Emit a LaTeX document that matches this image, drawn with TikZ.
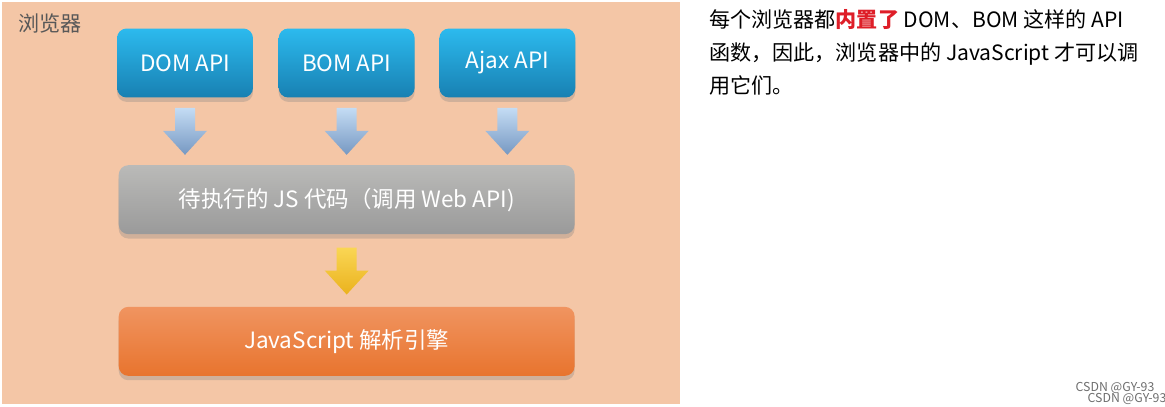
\documentclass[tikz,border=0pt]{standalone}
\usepackage{fontspec}
\setmainfont{Noto Sans CJK SC}
\usetikzlibrary{calc,positioning,shadows}
\definecolor{peach}{RGB}{244,198,166}
\definecolor{apitop}{RGB}{44,186,238}
\definecolor{apibot}{RGB}{24,128,178}
\definecolor{codetop}{RGB}{186,186,184}
\definecolor{codebot}{RGB}{154,154,154}
\definecolor{engtop}{RGB}{240,148,96}
\definecolor{engbot}{RGB}{232,116,46}
\definecolor{pfeiltop}{RGB}{196,220,244}
\definecolor{pfeilbot}{RGB}{118,152,194}
\definecolor{gelbtop}{RGB}{250,214,84}
\definecolor{gelbbot}{RGB}{234,178,30}
\definecolor{lblgray}{RGB}{88,88,88}
\definecolor{hl}{RGB}{222,30,40}
\definecolor{wm}{RGB}{110,110,110}
% Blockpfeil von #1 (oben) bis Spitze #2, Stil #3
\newcommand{\blockpfeil}[3]{%
  \path[#3] ($(#1)+(-10,0)$) -- ($(#1)+(10,0)$) -- ($(#2)+(10,-24)$) -- ($(#2)+(22,-24)$)
    -- (#2) -- ($(#2)+(-22,-24)$) -- ($(#2)+(-10,-24)$) -- cycle;}
\tikzset{
  every picture/.style={x=0.02cm, y=-0.02cm},
  every node/.style={font=\fontsize{12}{14}\selectfont, inner sep=0pt},
  % Kästen
  box/.style={rounded corners=5.5pt, minimum height=1.38cm, text=white,
    font=\fontsize{12.8}{15}\selectfont,
    drop shadow={opacity=0.3, shadow xshift=0pt, shadow yshift=-2.5pt}},
  apibox/.style={box, minimum width=2.72cm, top color=apitop, bottom color=apibot},
  codebox/.style={box, minimum width=9.12cm, top color=codetop, bottom color=codebot},
  enginebox/.style={box, minimum width=9.12cm, top color=engtop, bottom color=engbot},
  % Pfeile
  bluearrow/.style={top color=pfeiltop, bottom color=pfeilbot},
  yellowarrow/.style={top color=gelbtop, bottom color=gelbbot},
  note/.style={anchor=base west, text=black},
  wmark/.style={text=wm, font=\fontsize{7}{8}\selectfont},
}

\begin{document}
\begin{tikzpicture}
  \useasboundingbox (0,0) rectangle (1165,406);
  \fill[white] (0,0) rectangle (1165,406);
  % Browser-Fläche
  \fill[peach] (2,2) rectangle (680,404);
  \node[anchor=base west, text=lblgray] (browser) at (18,31) {浏览器};
  % Web-APIs
  \node[apibox] (dom) at (185,63) {DOM API};
  \node[apibox, right=0.5cm of dom] (bom) {BOM API};
  \node[apibox, right=0.48cm of bom] (ajax) {Ajax API};
  % Code und Engine
  \node[codebox, below=1.34cm of bom] (code) {待执行的 JS 代码（调用 Web API)};
  \node[enginebox, below=1.44cm of code] (engine) {JavaScript 解析引擎};
  \foreach \n in {dom,bom,ajax} {
    \coordinate (\n-a) at ($(\n.south)+(0,10)$);
    \coordinate (\n-b) at ($(\n.south |- code.north)+(0,-10)$);
    \blockpfeil{\n-a}{\n-b}{bluearrow}
  }
  \coordinate (code-a) at ($(code.south)+(0,13)$);
  \coordinate (code-b) at ($(engine.north)+(0,-12)$);
  \blockpfeil{code-a}{code-b}{yellowarrow}
  % Erläuterung rechts
  \node[note] (note1) at (709,27) {每个浏览器都\textcolor{hl}{\bfseries 内置了} DOM、BOM 这样的 API};
  \node[note] (note2) at (709,60) {函数，因此，浏览器中的 JavaScript 才可以调};
  \node[note] (note3) at (709,93) {用它们。};
  % Wasserzeichen
  \node[wmark] (wm1) at (1115,388) {CSDN @GY-93};
  \node[wmark] (wm2) at (1127,399) {CSDN @GY-93};
\end{tikzpicture}
\end{document}
